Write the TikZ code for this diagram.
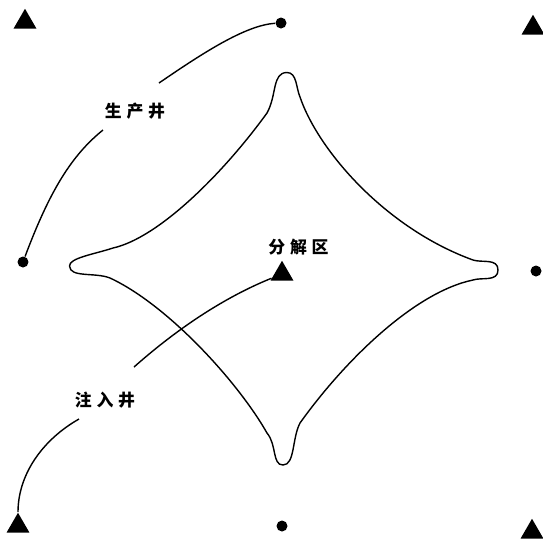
\documentclass[tikz,border=0pt]{standalone}
\usepackage{fontspec}
\newfontfamily\cjk[LetterSpace=28]{Noto Sans CJK SC}
\usetikzlibrary{shapes.geometric}
\tikzset{
    prodwell/.style={circle, fill=black, draw=none, inner sep=0pt, minimum size=0.22cm},
    injwell/.style={regular polygon, regular polygon sides=3, fill=black, draw=none, inner sep=0pt, minimum size=0.53cm},
    welllabel/.style={inner sep=0pt, font=\cjk\bfseries\fontsize{9.6pt}{11pt}\selectfont},
    pipe/.style={line width=0.8pt},
}
\begin{document}
\begin{tikzpicture}[x=0.02cm, y=-0.02cm]
        \useasboundingbox (0, 0) rectangle (543, 542);

        \node (1-1) at (25, 22) [injwell] {};
        \node (1-2) at (281, 23) [prodwell] {};
        \node (1-3) at (533, 28) [injwell] {};

        \node (2-1) at (23, 262) [prodwell] {};
        \node (2-2) at (282, 274) [injwell] {};
        \node (2-3) at (536, 271) [prodwell] {};

        \node (3-1) at (18, 526) [injwell] {};
        \node (3-2) at (282, 526) [prodwell] {};
        \node (3-3) at (532, 532) [injwell] {};

        \node (prod) at (135, 111) [welllabel] {生产井};
        \node (inj) at (105, 400) [welllabel] {注入井};
        \node (zone) at (298.5, 247) [welllabel] {分解区};

        \coordinate (prod-a) at (103, 130);
        \coordinate (prod-b) at (159, 83);
        \coordinate (inj-a) at (134, 367);
        \coordinate (inj-b) at (79, 419);

        \draw[pipe] (2-1) .. controls (50, 190) and (72, 155) .. (prod-a);
        \draw[pipe] (prod-b) .. controls (200, 55) and (245, 25) .. (1-2);
        \draw[pipe] (2-2) .. controls (225, 297) and (178, 328) .. (inj-a);
        \draw[pipe] (inj-b) .. controls (42, 440) and (18, 475) .. (3-1);

        \draw[pipe] (287, 72.5) .. controls (297, 72.5) and (296, 88) .. (300, 97)
            .. controls (318, 150) and (385, 228) .. (473, 260)
            .. controls (482, 263) and (498, 258) .. (498, 270)
            .. controls (498, 282) and (482, 277) .. (473, 280)
            .. controls (415, 292) and (345, 360) .. (300, 423)
            .. controls (292, 438) and (295, 465) .. (283, 465)
            .. controls (272, 465) and (277, 445) .. (267, 433)
            .. controls (238, 382) and (168, 305) .. (110, 278)
            .. controls (95, 272) and (70, 278) .. (69.5, 266)
            .. controls (69, 258) and (95, 254) .. (113, 248)
            .. controls (158, 238) and (222, 175) .. (267, 113)
            .. controls (277, 95) and (272, 72.5) .. cycle;
\end{tikzpicture}
\end{document}
